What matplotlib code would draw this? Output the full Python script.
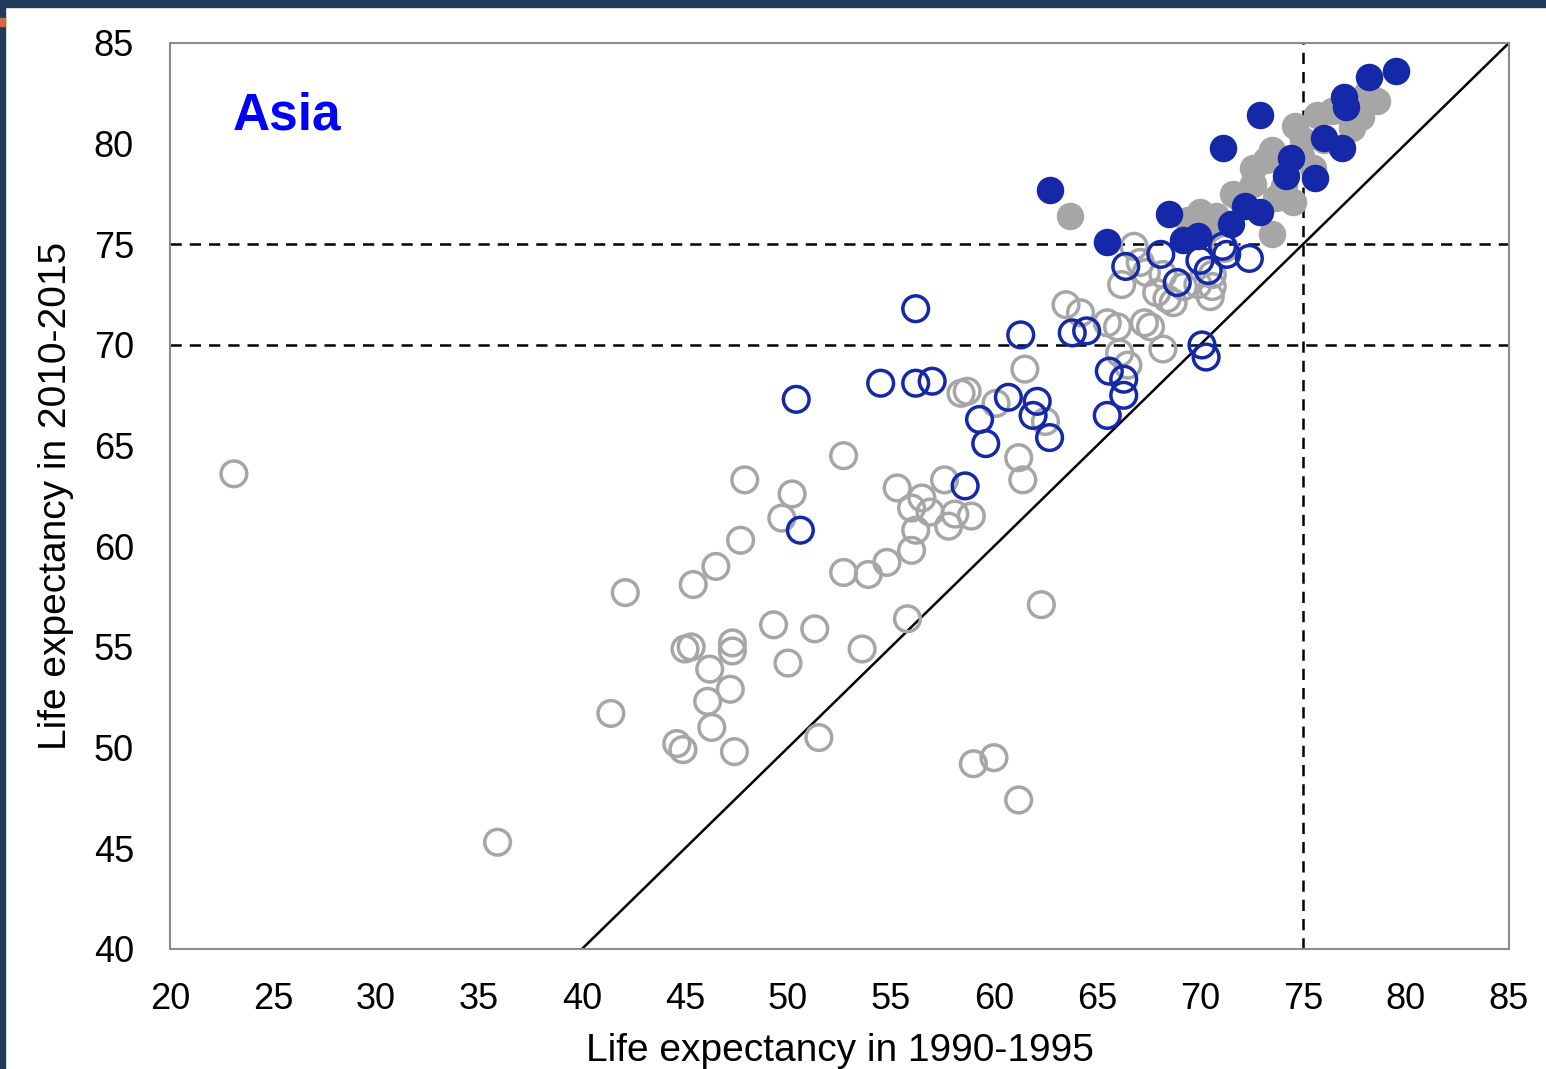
import matplotlib.pyplot as plt
from matplotlib.patches import Rectangle

plt.rcParams['font.family'] = ['Liberation Sans', 'DejaVu Sans']

# life expectancy, 1990-1995 (x) vs 2010-2015 (y)
# other countries below 75 years
other_low_x = [23.1, 35.9, 41.4, 42.1, 44.6, 44.9, 45.0, 45.3, 45.4, 46.1, 46.2, 46.3, 46.5,
               47.2, 47.3, 47.3, 47.4, 47.7, 47.9, 49.3, 49.7, 50.0, 50.2, 51.3, 51.5, 52.7,
               52.7, 53.6, 53.9, 54.8, 55.3, 55.8, 56.0, 56.2, 56.0, 56.5, 56.9, 57.6, 57.8,
               58.1, 58.9, 58.4, 58.7, 59.0, 60.0, 60.1, 61.2, 61.4, 61.2, 62.3, 61.5, 62.5,
               63.5, 64.2, 65.5, 66.0, 67.3, 67.6, 66.1, 66.5, 68.2, 66.2, 67.9, 68.4, 69.9,
               70.5, 70.6, 66.8, 67.1, 67.4, 68.2, 68.7, 69.2, 70.6, 71.2]
other_low_y = [63.6, 45.3, 51.7, 57.7, 50.2, 49.9, 54.9, 55.0, 58.1, 52.3, 53.9, 51.0, 59.0,
               52.9, 55.2, 54.8, 49.8, 60.3, 63.3, 56.1, 61.4, 54.2, 62.6, 55.9, 50.5, 64.5,
               58.7, 54.9, 58.6, 59.2, 62.9, 56.4, 59.8, 60.8, 61.9, 62.4, 61.7, 63.3, 61.0,
               61.6, 61.5, 67.6, 67.7, 49.2, 49.5, 67.1, 64.4, 63.3, 47.4, 57.1, 68.8, 66.2,
               72.0, 71.6, 71.1, 70.9, 71.1, 70.9, 69.6, 69.0, 69.8, 73.0, 72.6, 72.3, 73.0,
               72.4, 72.9, 74.9, 74.1, 73.6, 73.5, 72.1, 72.9, 73.5, 74.8]

# other countries at 75 years or more
other_high_x = [63.7, 70.0, 69.4, 70.8, 70.5, 71.6, 71.9, 72.6, 72.6, 73.2, 73.5, 73.5, 73.7,
                74.5, 74.6, 75.0, 75.5, 75.7, 76.0, 76.4, 77.3, 77.4, 77.8, 78.1, 78.6, 74.9,
                74.1]
other_high_y = [76.4, 76.6, 76.2, 76.4, 75.8, 77.5, 77.3, 78.8, 78.0, 79.2, 79.7, 75.5, 77.3,
                77.1, 80.9, 80.2, 78.8, 81.4, 80.2, 81.6, 81.3, 80.8, 81.3, 82.5, 82.1, 79.4,
                77.9]

# Asian countries below 75 years
asia_low_x = [50.4, 50.6, 54.5, 56.2, 56.2, 57.0, 58.6, 59.3, 59.6, 60.7, 61.3, 61.9, 62.1,
              62.7, 63.8, 64.5, 65.5, 65.6, 66.3, 66.3, 66.4, 68.1, 68.9, 70.0, 70.4, 71.3,
              71.1, 72.4, 70.1, 70.3]
asia_low_y = [67.3, 60.8, 68.1, 68.1, 71.8, 68.2, 63.0, 66.3, 65.1, 67.4, 70.5, 66.5, 67.2,
              65.4, 70.6, 70.7, 66.5, 68.7, 68.3, 67.5, 73.9, 74.5, 73.1, 74.2, 73.7, 74.5,
              74.9, 74.3, 70.0, 69.4]

# Asian countries at 75 years or more
asia_high_x = [62.7, 65.5, 68.5, 69.2, 69.9, 71.1, 71.5, 72.2, 72.9, 72.9, 74.2, 74.4, 75.6,
               76.0, 76.9, 77.0, 77.1, 78.2, 79.5]
asia_high_y = [77.7, 75.1, 76.5, 75.2, 75.4, 79.8, 76.0, 76.9, 76.6, 81.4, 78.4, 79.3, 78.3,
               80.3, 79.8, 82.3, 81.8, 83.3, 83.6]

gray = '#a6a6a6'
blue = '#1428a8'

fig = plt.figure(figsize=(15.46, 10.69), dpi=100)
ax = fig.add_axes([0.110, 0.1123, 0.866, 0.8475])

# reference lines
ax.plot([40, 85], [40, 85], color='black', lw=1.8, zorder=1)
dash = (0, (4.5, 3.2))
ax.axhline(75, color='black', lw=1.8, linestyle=dash, zorder=1)
ax.axhline(70, color='black', lw=1.8, linestyle=dash, zorder=1)
ax.axvline(75, color='black', lw=1.8, linestyle=dash, zorder=1)

ax.scatter(other_low_x, other_low_y, s=18.5 ** 2, facecolors='none', edgecolors=gray,
           linewidths=2.5, zorder=2)
ax.scatter(other_high_x, other_high_y, s=19.8 ** 2, color=gray, linewidths=0, zorder=3)
ax.scatter(asia_low_x, asia_low_y, s=18.5 ** 2, facecolors='none', edgecolors=blue,
           linewidths=2.5, zorder=4)
ax.scatter(asia_high_x, asia_high_y, s=19.8 ** 2, color=blue, linewidths=0, zorder=5)

ax.set_xlim(20, 85)
ax.set_ylim(40, 85)
ax.set_xticks(range(20, 86, 5))
ax.set_yticks(range(40, 86, 5))
ax.tick_params(length=0, labelsize=26, pad=24)
ax.tick_params(axis='y', pad=26)
for sp in ax.spines.values():
    sp.set_color('#8c8c8c')
    sp.set_linewidth(1.5)

ax.set_xlabel('Life expectancy in 1990-1995', fontsize=28, labelpad=11)
ax.set_ylabel('Life expectancy in 2010-2015', fontsize=28, labelpad=14)

ax.text(0.047, 0.919, 'Asia', transform=ax.transAxes, fontsize=37, fontweight='bold',
        color='#0000ff', ha='left', va='center')

# slide frame bits
fig.patches.append(Rectangle((0, 0.9935), 1, 0.0065, transform=fig.transFigure,
                             color='#1f3a5a', zorder=0))
fig.patches.append(Rectangle((0, 0), 0.0033, 1, transform=fig.transFigure,
                             color='#1f3a5a', zorder=0))
fig.patches.append(Rectangle((0, 0.9757), 0.0033, 0.0075, transform=fig.transFigure,
                             color='#d2693a', zorder=1))

fig.savefig('out.png', dpi=100)
